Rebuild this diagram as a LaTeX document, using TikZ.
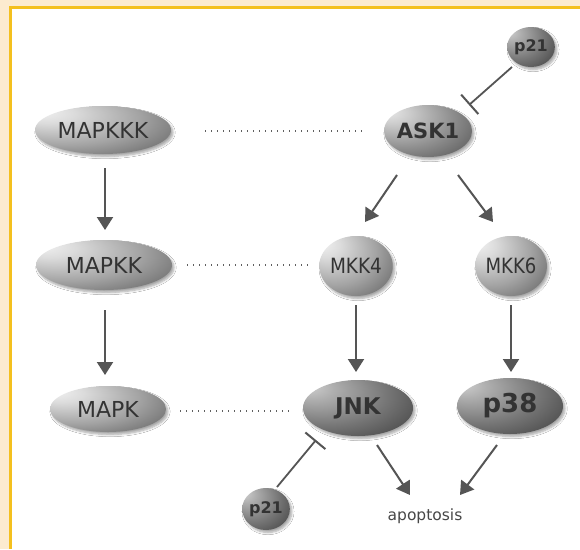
\documentclass[tikz,border=0pt]{standalone}
\usepackage{fontspec}
\setmainfont{DejaVu Sans}
\usetikzlibrary{arrows.meta,shadows,shadows.blur,calc,shapes.geometric}
\definecolor{cream}{HTML}{FCEBCF}
\definecolor{gold}{HTML}{F4C01E}
\definecolor{ink}{HTML}{333333}
\definecolor{linec}{HTML}{555555}
\pgfdeclareradialshading{lightball}{\pgfpoint{-24bp}{20bp}}{color(0bp)=(white!95!black); color(10bp)=(white!86!black); color(28bp)=(white!64!black); color(42bp)=(white!44!black); color(50bp)=(white!32!black); color(70bp)=(white!32!black)}
\pgfdeclareradialshading{midball}{\pgfpoint{-24bp}{20bp}}{color(0bp)=(white!92!black); color(10bp)=(white!80!black); color(28bp)=(white!56!black); color(42bp)=(white!38!black); color(50bp)=(white!28!black); color(70bp)=(white!28!black)}
\pgfdeclareradialshading{darkball}{\pgfpoint{-24bp}{20bp}}{color(0bp)=(white!82!black); color(10bp)=(white!68!black); color(28bp)=(white!46!black); color(42bp)=(white!30!black); color(50bp)=(white!22!black); color(70bp)=(white!22!black)}
\tikzset{
  ball/.style={ellipse, inner sep=0pt, text=ink,
    blur shadow={shadow xshift=2pt, shadow yshift=-2.5pt, shadow blur steps=6, shadow opacity=35}},
  lite/.style={ball, shading=lightball},
  mid/.style={ball, shading=midball},
  dark/.style={ball, shading=darkball},
  arr/.style={draw=linec, line width=2pt, -{Triangle[length=13pt,width=16pt]}},
  inh/.style={draw=linec, line width=1.8pt, -{Bar[width=26pt,line width=2pt]}},
  dots/.style={draw=gray!75!black, line width=1.2pt, dash pattern=on 1.4pt off 4.6pt},
}
\begin{document}
\begin{tikzpicture}[x=1pt,y=-1pt]
\useasboundingbox (0,0) rectangle (580,549);
\fill[cream] (0,0) rectangle (580,549);
\fill[gold] (9,6) rectangle (580,549);
\fill[white] (12,9) rectangle (580,549);

\node[dark, minimum width=44pt, minimum height=40pt, font=\fontsize{16}{18}\bfseries\selectfont] (p21a) at (531,47) {p21};
\node[lite, minimum width=136pt, minimum height=48pt, font=\fontsize{22}{26}\selectfont] (mapkkk) at (103,130) {MAPKKK};
\node[mid, minimum width=82pt, minimum height=52pt, font=\fontsize{21}{24}\bfseries\selectfont] (ask1) at (428,131) {ASK1};
\node[lite, minimum width=136pt, minimum height=50pt, font=\fontsize{22}{26}\selectfont] (mapkk) at (104,265) {MAPKK};
\node[lite, minimum width=60pt, minimum height=60pt, font=\fontsize{21}{24}\selectfont] (mkk4) at (356,266) {\scalebox{0.88}[1]{MKK4}};
\node[lite, minimum width=58pt, minimum height=60pt, font=\fontsize{21}{24}\selectfont] (mkk6) at (511,266) {\scalebox{0.86}[1]{MKK6}};
\node[lite, minimum width=116pt, minimum height=46pt, font=\fontsize{22}{26}\selectfont] (mapk) at (108,409) {MAPK};
\node[dark, minimum width=110pt, minimum height=56pt, font=\fontsize{23}{28}\bfseries\selectfont] (jnk) at (358,408) {JNK};
\node[dark, minimum width=106pt, minimum height=56pt, font=\fontsize{26}{30}\bfseries\selectfont] (p38) at (510,406) {p38};
\node[dark, minimum width=46pt, minimum height=42pt, font=\fontsize{16}{18}\bfseries\selectfont] (p21b) at (266,509) {p21};
\node[text=ink!90, font=\fontsize{15.5}{18}\selectfont] (apop) at (425,516) {apoptosis};

% dotted correspondences
\draw[dots] ($(mapkkk)+(102,1)$) -- ($(ask1)+(-65,0)$);
\draw[dots] ($(mapkk)+(83,0)$) -- ($(mkk4)+(-44,-1)$);
\draw[dots] ($(mapk)+(72,2)$) -- ($(jnk)+(-68,3)$);

% activation arrows
\draw[arr] ($(mapkkk)+(2,38)$) -- ($(mapkk)+(1,-35)$);
\draw[arr] ($(mapkk)+(1,45)$) -- ($(mapk)+(-3,-34)$);
\draw[arr] ($(ask1)+(-31,44)$) -- ($(mkk4)+(9,-44)$);
\draw[arr] ($(ask1)+(30,44)$) -- ($(mkk6)+(-18,-44)$);
\draw[arr] ($(mkk4)+(0,39)$) -- ($(jnk)+(-2,-36)$);
\draw[arr] ($(mkk6)+(0,39)$) -- ($(p38)+(1,-34)$);
\draw[arr] ($(jnk)+(19,37)$) -- ($(apop)+(-15,-21)$);
\draw[arr] ($(p38)+(-13,39)$) -- ($(apop)+(35,-21)$);

% inhibitions
\draw[inh] ($(p21a)+(-19,20)$) -- ($(ask1)+(41,-26)$);
\draw[inh] ($(p21b)+(11,-22)$) -- ($(jnk)+(-42,32)$);
\end{tikzpicture}
\end{document}
